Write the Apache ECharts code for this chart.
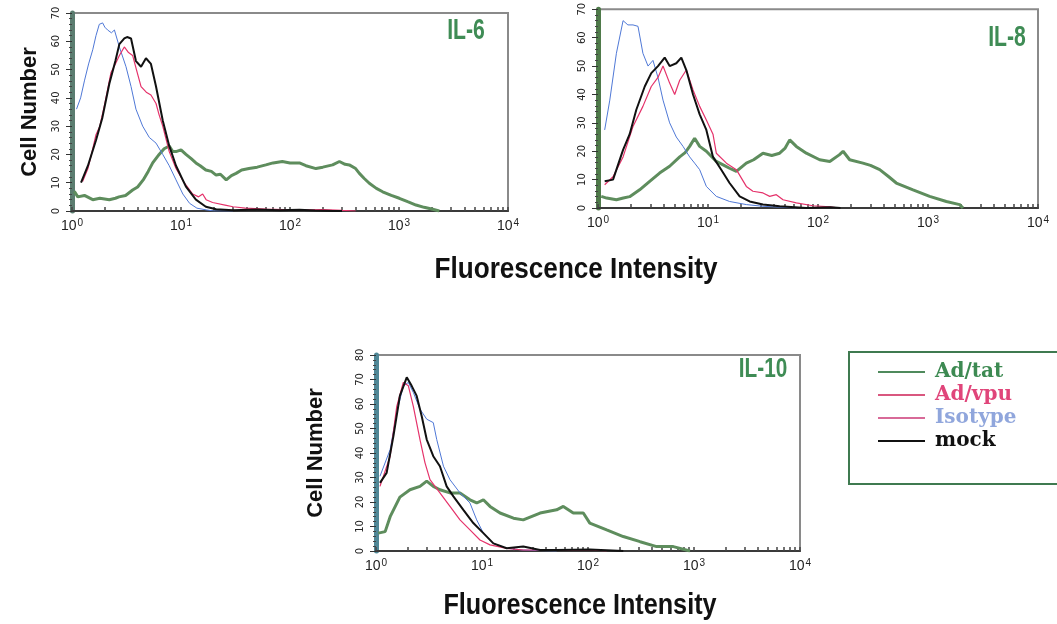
<!DOCTYPE html>
<html>
<head>
<meta charset="utf-8">
<script src="https://cdn.jsdelivr.net/npm/echarts@6.0.0/dist/echarts.min.js"></script>
<style>
  html, body { margin: 0; padding: 0; background: #fff; }
  #main { width: 1057px; height: 624px; }
</style>
</head>
<body>
<div id="main"></div>
<script>
// panels and legend names
var panels = ['IL-6', 'IL-8', 'IL-10'];
var groups = ['Ad/tat', 'Ad/vpu', 'Isotype', 'mock'];
var yMax = [70, 70, 80];
var xTicks = [1, 10, 100, 1000, 10000];

// IL-6 histograms  [intensity, cell number]
var il6Tat = [[1.05,7],[1.13,5],[1.3,5.5],[1.55,4],[1.8,4.5],[2.2,4],[2.5,4.5],[2.7,5],[3.1,5.5],[3.6,7.4],[4.0,8.5],[4.5,11],[5.0,14],[5.5,17],[6.3,20],[7.0,22],[7.8,23],[8.4,21],[9.0,21],[10,21.6],[11.1,20],[12.4,18.5],[13.7,17],[15,16],[16.9,14.5],[19,14],[21,12.7],[23,13],[26,11],[29,12.5],[32,13.3],[36,14.5],[42,15],[50,15.5],[60,16.3],[70,17],[85,17.5],[100,17],[122,17],[140,16],[173,15],[200,15.5],[246,16.3],[284,17.5],[320,16.5],[350,16.3],[400,15],[433,13.3],[480,11.5],[534,9.8],[620,8],[708,6.8],[850,5.5],[1007,4.5],[1200,3.3],[1432,2.1],[1700,1.3],[2036,0.6],[2344,0]];
var il6Vpu = [[1.25,10.4],[1.4,15],[1.55,22],[1.66,27],[1.8,30],[2.0,38],[2.28,49],[2.5,52],[2.72,55],[3.02,58],[3.3,56],[3.6,55],[3.9,50],[4.3,44],[4.8,42],[5.3,41],[5.9,38],[6.3,34],[6.8,30],[7.8,21],[9.0,15],[10.7,10],[12.8,6],[14.5,5],[15.8,6],[17,4],[19.5,3],[26,2],[30,1.5],[39,1],[60,0.7],[86,0.5],[120,0.3],[200,0.5],[300,0.2],[400,0]];
var il6Iso = [[1.1,36],[1.2,40],[1.3,46],[1.42,52],[1.55,57],[1.66,62],[1.78,66],[1.91,66.5],[2.0,65],[2.12,64],[2.3,63],[2.45,64],[2.72,58],[3.13,51],[3.48,44],[3.86,36],[4.45,30],[5.12,26],[5.9,24],[6.8,20],[7.8,16],[9.0,11],[10.4,6],[12.0,2.7],[14,1],[17,0.4],[20,0],[30,0]];
var il6Mock = [[1.21,10],[1.4,16],[1.66,25],[1.9,33],[2.2,45],[2.5,53],[2.72,59],[3.02,61],[3.2,61.5],[3.48,61],[3.86,53],[4.3,51],[4.77,54],[5.3,52],[5.9,44],[6.8,32],[7.8,23],[9.0,16],[11.1,8.6],[13.7,4],[16.9,1.5],[21,0.6],[30,0.3],[50,0.5],[80,0.3],[122,0.4],[170,0.2],[250,0],[300,0]];

// IL-8 histograms
var il8Tat = [[1.07,4.1],[1.2,3.5],[1.47,2.9],[1.7,3.5],[1.94,4],[2.39,6.4],[2.95,9.4],[3.63,12.3],[4.48,14.7],[5.53,18],[6.2,19.5],[6.81,21.7],[7.56,24.6],[8.4,21.7],[9.66,20],[11.9,16.4],[14,15],[15.7,14],[18.1,12.9],[22.3,15.8],[26,17],[31.6,19.3],[38,18.5],[44.8,19.3],[50,21],[55.3,24],[63.5,21.7],[78.3,19.3],[103.5,17],[128,16.4],[157,18.8],[169,20],[194,17],[256,15.8],[300,15],[364,13.5],[440,11],[515,8.8],[731,6.4],[1035,4.1],[1468,2.3],[1941,1.2],[2080,0]];
var il8Vpu = [[1.15,8.2],[1.37,11],[1.69,18],[2.08,28.7],[2.56,35.8],[3.05,42.8],[3.51,46],[3.9,50],[4.48,44],[4.98,40],[5.53,45],[6.35,48.6],[7.31,41.6],[8.4,35.8],[9.66,31],[11.1,26],[11.9,19.3],[14.7,15.8],[18.1,13.5],[22.3,7.6],[25.6,5.9],[31.6,5.3],[36.4,4.1],[41.8,4.7],[48.1,2.9],[63.5,1.8],[90,0.8],[128,0.4],[157,0]];
var il8Iso = [[1.15,27.5],[1.28,38],[1.47,54.5],[1.69,66],[1.87,64.5],[2.08,64.5],[2.31,64],[2.56,54.5],[2.85,50],[3.16,52],[3.51,46],[3.9,38],[4.48,30],[5.15,25],[5.93,21.7],[6.81,18],[7.56,15.8],[8.4,13.5],[9.66,7.6],[11.9,4.1],[15.7,2.3],[22.3,1.2],[31.6,0.6],[63.5,0]];
var il8Mock = [[1.15,9.4],[1.37,10],[1.69,20.5],[1.94,26],[2.23,34.6],[2.66,42.8],[3.05,47.5],[3.51,50],[4.04,53],[4.48,50],[5.15,51],[5.72,53],[6.35,48.6],[7.31,40],[8.4,33],[9.66,27.5],[11.1,18],[13.2,13.5],[15.7,8.8],[19.4,4.1],[23.9,2.3],[31.6,1.2],[44.8,0.6],[78,0],[130,0.3],[160,0]];

// IL-10 histograms
var il10Tat = [[1.05,7.3],[1.22,7.9],[1.36,14],[1.68,22],[2.09,25],[2.6,26.4],[3.01,28.5],[3.47,26.4],[4.01,25],[4.99,23.7],[6.2,23.7],[7.7,20.9],[8.91,19.6],[10.3,20.9],[11.9,18.2],[14.8,15.5],[19.8,13.4],[24.5,12.7],[35.3,15.5],[50.6,16.8],[58.5,18.2],[72.7,15.5],[90.3,15.5],[104,11.4],[150,8.6],[215,5.9],[310,3.8],[444,1.8],[638,1.8],[917,0]];
var il10Vpu = [[1.09,26.4],[1.36,38.7],[1.57,59],[1.81,68.8],[2.02,67.4],[2.25,59],[2.6,45.5],[2.9,36],[3.23,29.1],[4.01,23.7],[4.99,18.2],[6.2,12.7],[7.7,8.6],[9.57,4.5],[11.9,2.5],[17.1,1.1],[24.5,0.4],[50.6,0.4],[104,0.6],[150,0]];
var il10Iso = [[1.09,30.5],[1.36,41.4],[1.57,56.5],[1.81,67.4],[2.02,68.8],[2.25,64.7],[2.6,57.9],[3.01,53.8],[3.47,52.4],[3.74,45.5],[4.33,34.6],[4.99,29.1],[6.2,23.7],[7.7,19.6],[8.91,12.7],[10.3,7.3],[12.8,3.1],[17.1,1.1],[24.5,0.4],[50.6,0]];
var il10Mock = [[1.09,27.8],[1.26,31.9],[1.46,46.9],[1.68,63.3],[1.95,70.9],[2.17,67.4],[2.42,63.3],[2.7,55],[3.01,45.5],[3.47,38.7],[4.01,34.6],[4.64,26.4],[5.37,22.3],[6.67,16.8],[8.28,11.4],[10.3,7.3],[12.8,3.1],[17.1,1.1],[24.5,1.8],[35.3,0.4],[50.6,0.4],[104,0.6],[215,0]];

var panelData = [
	[il6Tat, il6Vpu, il6Iso, il6Mock],
	[il8Tat, il8Vpu, il8Iso, il8Mock],
	[il10Tat, il10Vpu, il10Iso, il10Mock]
];

// log-spaced tick marks (1..9 in each decade)
var xTickMarks = [];
for (var d = 0; d < 4; d++) {
	for (var m = 1; m < 10; m++) xTickMarks.push(m * Math.pow(10, d));
}
xTickMarks.push(10000);

var colors = ['#5e8d5d', '#e5336b', '#4f78d6', '#111111'];
var widths = [3, 1.2, 1, 2];
var zs = [2, 4, 3, 5];

var sans = '"Liberation Sans", Arial, sans-serif';

var grids = [
	{left: 72, top: 13, width: 436, height: 198},
	{left: 598, top: 9, width: 440, height: 199},
	{left: 376, top: 355, width: 424, height: 196}
];
var yAxisLineColor = ['#5b7d70', '#4f7a4a', '#4f8796'];
var yNameGap = [31, 0, 49];

function label(text, x, y, size, sx, color) {
	return {
		type: 'text', x: x, y: y, scaleX: sx,
		style: {text: text, font: 'bold ' + size + 'px ' + sans, fill: color, textAlign: 'center', textVerticalAlign: 'middle'}
	};
}

var option = {
	backgroundColor: '#fff',
	animation: false,
	grid: [],
	xAxis: [],
	yAxis: [],
	series: [],
	legend: {
		orient: 'vertical',
		left: 878,
		top: 362,
		padding: 0,
		itemWidth: 47,
		itemHeight: 2,
		itemGap: 3,
		icon: 'rect',
		selectedMode: false,
		textStyle: {fontFamily: '"DejaVu Serif", "Liberation Serif", serif', fontWeight: 'bold', fontSize: 20, padding: [0, 0, 0, 5]},
		data: [
			{name: 'Ad/tat', textStyle: {color: '#3d8a52'}, itemStyle: {color: '#4f8a5c'}},
			{name: 'Ad/vpu', textStyle: {color: '#e0457a'}, itemStyle: {color: '#d9577f'}},
			{name: 'Isotype', textStyle: {color: '#90a6dc'}, itemStyle: {color: '#d86a98'}},
			{name: 'mock', textStyle: {color: '#111'}, itemStyle: {color: '#111'}}
		]
	},
	graphic: [
		{type: 'rect', shape: {x: 849, y: 352, width: 230, height: 132}, style: {fill: 'none', stroke: '#3f7a50', lineWidth: 2}},
		label('Fluorescence Intensity', 576, 270, 30, 0.87, '#111'),
		label('Fluorescence Intensity', 580, 606, 30, 0.84, '#111'),
		label(panels[0], 466, 31, 29, 0.73, '#3f8c55'),
		label(panels[1], 1007, 38, 29, 0.73, '#3f8c55'),
		label(panels[2], 763, 370, 27, 0.77, '#3f8c55')
	]
};

for (var i = 0; i < 3; i++) {
	option.grid.push({
		left: grids[i].left, top: grids[i].top, width: grids[i].width, height: grids[i].height,
		show: true, borderColor: '#8a8a8a', borderWidth: 2
	});
	option.xAxis.push({
		type: 'log', logBase: 10, min: xTicks[0], max: xTicks[xTicks.length - 1], gridIndex: i,
		axisLine: {show: true, lineStyle: {color: '#3a3a3a', width: 2}},
		axisTick: {show: true, inside: true, length: 4, customValues: xTickMarks, lineStyle: {color: '#444', width: 1.5}},
		splitLine: {show: false},
		axisLabel: {
			margin: 7,
			customValues: xTicks,
			formatter: function (v) {
				return '{b|10}{s|' + Math.round(Math.log(v) / Math.LN10) + '}';
			},
			rich: {
				b: {fontSize: 14, fontFamily: sans, color: '#222'},
				s: {fontSize: 10, fontFamily: sans, color: '#222', verticalAlign: 'top', padding: [0, 0, 6, 1]}
			}
		}
	});
	option.yAxis.push({
		type: 'value', min: 0, max: yMax[i], interval: 10, gridIndex: i,
		name: i === 1 ? '' : 'Cell Number',
		nameLocation: 'middle', nameGap: yNameGap[i], nameRotate: 90,
		nameTextStyle: {fontSize: 22, fontWeight: 'bold', fontFamily: sans, color: '#111'},
		axisLine: {show: true, lineStyle: {color: yAxisLineColor[i], width: 5}},
		axisTick: {show: true, length: 6, lineStyle: {color: '#333'}},
		minorTick: {show: true, splitNumber: 5, length: 3, lineStyle: {color: '#444'}},
		splitLine: {show: false},
		axisLabel: {rotate: 90, fontSize: 11, fontFamily: '"DejaVu Sans Condensed", sans-serif', color: '#222', margin: 10}
	});
	for (var j = 0; j < 4; j++) {
		option.series.push({
			type: 'line',
			name: groups[j],
			xAxisIndex: i,
			yAxisIndex: i,
			data: panelData[i][j],
			symbol: 'none',
			showSymbol: false,
			z: zs[j],
			lineStyle: {color: colors[j], width: widths[j]},
			itemStyle: {color: colors[j]}
		});
	}
}

var chart = echarts.init(document.getElementById('main'), null, {renderer: 'canvas'});
chart.setOption(option);
</script>
</body>
</html>
